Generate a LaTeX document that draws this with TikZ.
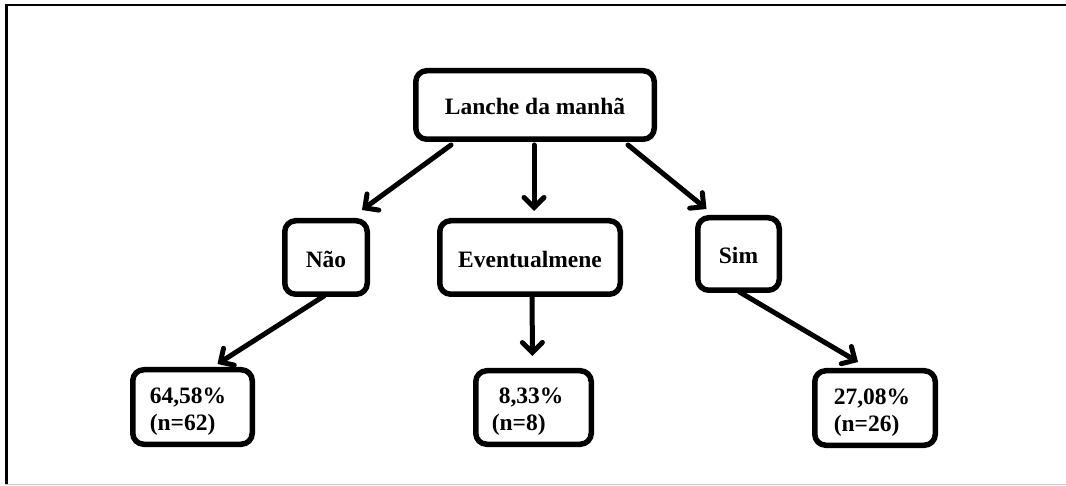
\documentclass[tikz,border=0pt]{standalone}
\usepackage{fontspec}
\setmainfont{Liberation Serif}
\usetikzlibrary{arrows.meta,calc}

\tikzset{
  box/.style={draw, line width=5.5pt, rounded corners=11pt, fill=white,
    font=\fontsize{23.5}{27}\selectfont\bfseries, inner sep=0pt, align=center,
    text height=20pt, text depth=0pt},
  pct/.style={box, align=left, text height=16pt, text depth=24pt},
  link/.style={line width=5pt, line cap=round,
    -{Straight Barb[length=10pt,width=20pt,line width=5pt,line cap=round]}},
}

\begin{document}
\begin{tikzpicture}[x=1pt, y=-1pt]
  \useasboundingbox (0,0) rectangle (1066,486);

  % frame
  \draw[line width=2.5pt] (5,5) -- (1066,5);
  \draw[line width=2.5pt] (6.5,4) -- (6.5,484);
  \draw[line width=1pt, black!22] (5,484.5) -- (1066,484.5);

  % first level
  \node[box, minimum width=238.5pt, minimum height=68.5pt] (lanche) at (535,105) {Lanche da manhã};

  % second level
  \node[box, minimum width=82.5pt, minimum height=73.5pt] (nao) at (326,257.5) {Não};
  \node[box, minimum width=180.5pt, minimum height=73.5pt] (even) at (530,257.5) {Eventualmene};
  \node[box, minimum width=81.5pt, minimum height=72.5pt] (sim) at (738.5,254) {Sim};

  % third level
  \node[pct, inner xsep=17pt, text width=85.5pt, minimum height=74.5pt] (pnao) at (192.5,407)
    {64,58\%\\(n=62)};
  \node[pct, inner xsep=16pt, text width=83.5pt, minimum height=73.5pt] (peven) at (533.5,407.5)
    {\hspace*{7pt}8,33\%\\(n=8)};
  \node[pct, inner xsep=19pt, text width=82.5pt, minimum height=74.5pt] (psim) at (875,408)
    {27,08\%\\(n=26)};

  % connectors
  \draw[link] ($(lanche.south)+(-84,3)$) -- ($(nao.north)+(36,-8)$);
  \draw[link] ($(lanche.south)+(-1,3)$) -- ($(even.north)+(4,-7)$);
  \draw[link] ($(lanche.south)+(93,3)$) -- ($(sim.north)+(-32,-6)$);

  \draw[link] ($(nao.south)+(-2,-1)$) -- ($(pnao.north)+(25,-3)$);
  \draw[link] ($(even.south)+(2,-1)$) -- ($(peven.north)+(-1,-12)$);
  \draw[link] ($(sim.south)+(1,-1)$) -- ($(psim.north)+(-17,-6)$);
\end{tikzpicture}
\end{document}
